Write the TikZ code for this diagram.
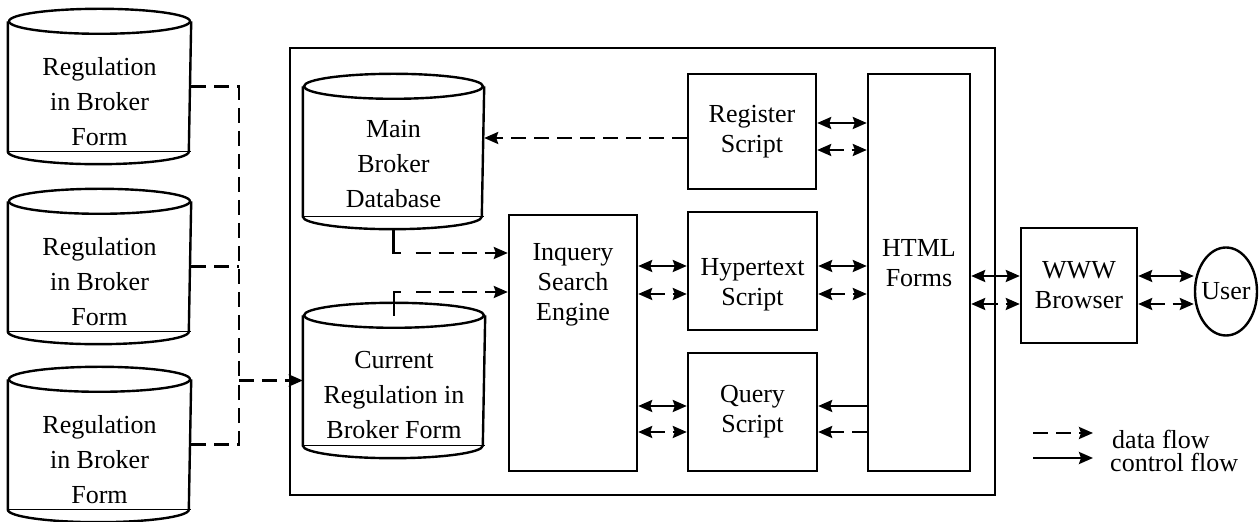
\documentclass[tikz,border=0pt]{standalone}
\usepackage{fontspec}
\setmainfont{Liberation Serif}
\usetikzlibrary{arrows.meta,shapes.geometric,calc,positioning}

% outline of a can round an (empty) node: name, x radius
\newcommand{\drawcan}[2]{%
  \draw ($(#1.north)+(0,12.5)$) ellipse (#2 and 12.5);
  \draw ($(#1.north west)+(0,12.5)$) -- ($(#1.south west)+(0,-12.5)$) arc (180:0:#2 and 12.5) -- ($(#1.north east)+(0,12.5)$);
  \draw[line width=0.6pt] ($(#1.south west)+(0,-12.5)$) -- ($(#1.south east)+(0,-12.5)$);
}

\begin{document}
\begin{tikzpicture}[x=0.5pt,y=0.5pt,yscale=-1,xscale=1,line width=1.2pt,
    >={Stealth[length=7pt,width=6pt,inset=1pt]},
    box/.style={draw,rectangle,inner sep=0pt,align=center,font=\fontsize{13}{15}\selectfont},
    can/.style={rectangle,inner sep=0pt,minimum height=76.5pt},
    cantext/.style={align=center,inner sep=0pt,font=\fontsize{13}{17.5}\selectfont},
    boxtext/.style={align=center,inner sep=0pt,font=\fontsize{13}{15}\selectfont},
    dataflow/.style={dash pattern=on 7.5pt off 4pt}]
    \useasboundingbox (0,0) rectangle (1260,522);

    %Shape: Rectangle
    \node[box,minimum width=352.5pt,minimum height=223.5pt] (server) at (642.5,271.5) {};

    %Shape: Can
    \node[can,minimum width=90.5pt] (reg1) at (99.5,86.5) {};
    \drawcan{reg1}{90.5}
    %Shape: Can
    \node[can,minimum width=90.5pt] (reg2) at (99.5,266.5) {};
    \drawcan{reg2}{90.5}
    %Shape: Can
    \node[can,minimum width=90.5pt] (reg3) at (99.5,444.5) {};
    \drawcan{reg3}{90.5}
    %Shape: Can
    \node[can,minimum width=89.5pt] (maindb) at (393.5,151.5) {};
    \drawcan{maindb}{89.5}
    %Shape: Can
    \node[can,minimum width=90pt] (current) at (394,380.5) {};
    \drawcan{current}{90}

    %Shape: Rectangle
    \node[box,minimum width=64pt,minimum height=128pt] (inquery) at (573,343) {};
    %Shape: Rectangle
    \node[box,minimum width=64pt,minimum height=57.5pt] (register) at (752,131.5) {Register\\Script};
    %Shape: Rectangle
    \node[box,minimum width=64.5pt,minimum height=59pt] (hyper) at (752.5,271) {};
    %Shape: Rectangle
    \node[box,minimum width=64.5pt,minimum height=59pt] (query) at (752.5,412) {Query\\Script};
    %Shape: Rectangle
    \node[box,minimum width=51pt,minimum height=198.5pt] (html) at (919,272.5) {};
    %Shape: Rectangle
    \node[box,minimum width=58pt,minimum height=57.5pt] (www) at (1079,285.5) {WWW\\Browser};
    %Shape: Ellipse
    \node[box,ellipse,minimum width=31pt,minimum height=44pt] (user) at (1226,291.5) {\makebox[0pt]{User}};

    % Text Node
    \node[cantext] (reg1txt) at ([yshift=7.5pt]reg1.center) {Regulation\\in Broker\\Form};
    % Text Node
    \node[cantext] (reg2txt) at ([yshift=7.5pt]reg2.center) {Regulation\\in Broker\\Form};
    % Text Node
    \node[cantext] (reg3txt) at ([yshift=7.5pt]reg3.center) {Regulation\\in Broker\\Form};
    % Text Node
    \node[cantext] (maindbtxt) at ([yshift=6.5pt]maindb.center) {Main\\Broker\\Database};
    % Text Node
    \node[cantext] (currenttxt) at ([yshift=7.5pt]current.center) {Current\\Regulation in\\Broker Form};
    % Text Node
    \node[boxtext] (inquerytxt) at ([yshift=-29pt]inquery.center) {Inquery\\Search\\Engine};
    % Text Node
    \node[boxtext] (hypertxt) at ([yshift=6.75pt]hyper.center) {Hypertext\\Script};
    % Text Node
    \node[boxtext] (htmltxt) at ([yshift=-4.5pt]html.center) {HTML\\Forms};

    %Straight Lines
    \coordinate (trunk) at ([xshift=-32pt]current.west);
    \draw[dataflow] (reg1.east) -| (trunk);
    \draw[dataflow] (reg3.east) -| (trunk);
    \draw[dataflow] (reg2.east) -- (reg2.east -| trunk);
    \draw[dataflow,->] (trunk) -- (current.west);
    %Straight Lines
    \coordinate (dbin) at ([yshift=-45pt]inquery.west);
    \coordinate (curin) at ([yshift=-25.5pt]inquery.west);
    \draw (maindb.south) -- (maindb.south |- dbin) -- ++(7,0);
    \draw[dataflow,->] ([xshift=11pt]maindb.south |- dbin) -- (dbin);
    \draw ([yshift=6.5pt]current.north) -- (current.north |- curin) -- ++(7,0);
    \draw[dataflow,->] ([xshift=11pt]current.north |- curin) -- (curin);
    \draw[dataflow,->] ([yshift=3.25pt]register.west) -- ([yshift=3.25pt]register.west -| maindb.east);
    %Straight Lines
    \draw[<->] ([yshift=-4.25pt]register.east) -- ([yshift=-4.25pt]register.east -| html.west);
    \draw[dataflow,<->] ([yshift=9.25pt]register.east) -- ([yshift=9.25pt]register.east -| html.west);
    %Straight Lines
    \draw[<->] ([yshift=-2.5pt]hyper.west -| inquery.east) -- ([yshift=-2.5pt]hyper.west);
    \draw[dataflow,<->] ([yshift=11.5pt]hyper.west -| inquery.east) -- ([yshift=11.5pt]hyper.west);
    \draw[<->] ([yshift=-2.5pt]hyper.east) -- ([yshift=-2.5pt]hyper.east -| html.west);
    \draw[dataflow,<->] ([yshift=11.5pt]hyper.east) -- ([yshift=11.5pt]hyper.east -| html.west);
    %Straight Lines
    \draw[<->] ([yshift=-3pt]query.west -| inquery.east) -- ([yshift=-3pt]query.west);
    \draw[dataflow,<->] ([yshift=10pt]query.west -| inquery.east) -- ([yshift=10pt]query.west);
    \draw[->] ([yshift=-3pt]query.east -| html.west) -- ([yshift=-3pt]query.east);
    \draw[dataflow,->] ([yshift=10pt]query.east -| html.west) -- ([yshift=10pt]query.east);
    %Straight Lines
    \draw[<->] ([yshift=-4.75pt]www.west -| html.east) -- ([yshift=-4.75pt]www.west);
    \draw[dataflow,<->] ([yshift=9.25pt]www.west -| html.east) -- ([yshift=9.25pt]www.west);
    \draw[<->] ([yshift=-4.75pt]www.east) -- ([yshift=-4.75pt]www.east -| user.west);
    \draw[dataflow,<->] ([yshift=9.25pt]www.east) -- ([yshift=9.25pt]www.east -| user.west);

    % Legend
    \coordinate (datastart) at (1033,433);
    \coordinate (dataend) at (1093,433);
    \coordinate (ctrlstart) at (1033,458);
    \coordinate (ctrlend) at (1093,458);
    \draw[dataflow,->] (datastart) -- (dataend);
    \draw[->] (ctrlstart) -- (ctrlend);
    % Text Node
    \node[boxtext,right=9pt of dataend,yshift=-3pt] (datalbl) {data flow};
    % Text Node
    \node[boxtext,right=8pt of ctrlend,yshift=-2pt] (ctrllbl) {control flow};

\end{tikzpicture}
\end{document}
